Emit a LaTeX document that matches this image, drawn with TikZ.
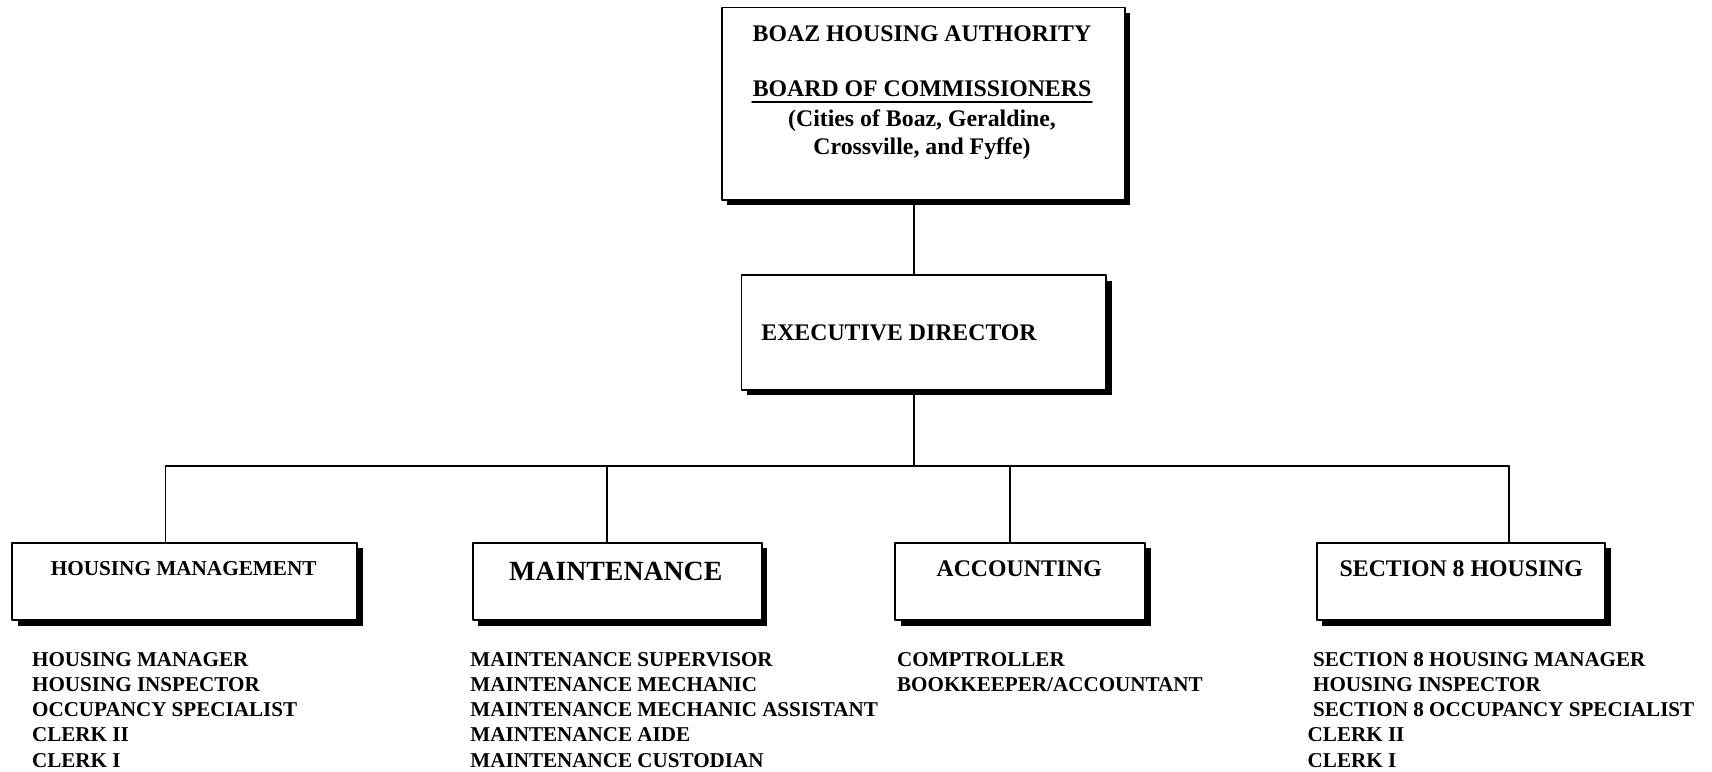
\documentclass[tikz,border=0pt]{standalone}
\usepackage{fontspec}
\setmainfont{Liberation Serif}
\usetikzlibrary{shadows}

\begin{document}
\begin{tikzpicture}[x=0.5pt,y=-0.5pt,line cap=round,line join=round,
  unitbox/.style={draw,line width=0.8pt,fill=white,inner sep=0pt,
    drop shadow={shadow xshift=2.8pt,shadow yshift=-2.8pt,fill=black,opacity=1}},
  title/.style={inner sep=0pt,anchor=base,font=\fontsize{11.9}{14}\selectfont\bfseries},
  item/.style={inner sep=0pt,anchor=base west,font=\fontsize{10.55}{12.6}\selectfont\bfseries},
  link/.style={line width=0.8pt}]
  \useasboundingbox (0,0) rectangle (1712,771);
  % boxes
  \node[unitbox,minimum width=201.5pt,minimum height=96.1pt] (board) at (923.2,103.7) {};
  \node[unitbox,minimum width=182.3pt,minimum height=57.3pt] (exec) at (923.7,332.5) {};
  \node[unitbox,minimum width=172.5pt,minimum height=38.7pt] (hm) at (184.5,581.5) {};
  \node[unitbox,minimum width=144.5pt,minimum height=38.7pt] (maint) at (617.2,581.5) {};
  \node[unitbox,minimum width=125pt,minimum height=38.7pt] (acct) at (1020,581.5) {};
  \node[unitbox,minimum width=144.2pt,minimum height=38.7pt] (sect) at (1460.9,581.5) {};
  % box texts
  \node[title] (boaz) at (922,41.7) {BOAZ HOUSING AUTHORITY};
  \node[title] (boc) at (922,96.7) {BOARD OF COMMISSIONERS};
  \draw[line width=1.3pt] ([yshift=-2.65pt]boc.base west) -- ([yshift=-2.65pt]boc.base east);
  \node[title] (cities) at (922,126.7) {(Cities of Boaz, Geraldine,};
  \node[title] (towns) at (922,154) {Crossville, and Fyffe)};
  \node[title,anchor=base west] (execlabel) at (761,340.5) {EXECUTIVE DIRECTOR};
  \node[title,font=\fontsize{10.6}{12.6}\selectfont\bfseries] (hmlabel) at (183.7,575) {HOUSING MANAGEMENT};
  \node[title,font=\fontsize{13.9}{16}\selectfont\bfseries] (maintlabel) at (615.8,580.7) {MAINTENANCE};
  \node[title] (acctlabel) at (1019.2,576.7) {ACCOUNTING};
  \node[title] (sectlabel) at (1461.3,576.7) {SECTION 8 HOUSING};
  % connectors
  \coordinate (hub) at (914,466);
  \coordinate (b1) at (165.5,466);
  \coordinate (b2) at (607,466);
  \coordinate (b3) at (1010,466);
  \coordinate (b4) at (1509,466);
  \draw[link] (board.south -| hub) -- (exec.north -| hub);
  \draw[link] (exec.south -| hub) -- (hub);
  \draw[link] (b1) -- (b4);
  \draw[link] (b1) -- (b1 |- hm.north);
  \draw[link] (b2) -- (b2 |- maint.north);
  \draw[link] (b3) -- (b3 |- acct.north);
  \draw[link] (b4) -- (b4 |- sect.north);
  % staff lists
  \node[item] (hm1) at (31.7,666) {HOUSING MANAGER};
  \node[item] (hm2) at (31.7,691.3) {HOUSING INSPECTOR};
  \node[item] (hm3) at (31.7,716.6) {OCCUPANCY SPECIALIST};
  \node[item] (hm4) at (31.7,741.9) {CLERK II};
  \node[item] (hm5) at (31.7,767.2) {CLERK I};
  \node[item] (mt1) at (470,666) {MAINTENANCE SUPERVISOR};
  \node[item] (mt2) at (470,691.3) {MAINTENANCE MECHANIC};
  \node[item] (mt3) at (470,716.6) {MAINTENANCE MECHANIC ASSISTANT};
  \node[item] (mt4) at (470,741.9) {MAINTENANCE AIDE};
  \node[item] (mt5) at (470,767.2) {MAINTENANCE CUSTODIAN};
  \node[item] (ac1) at (896.7,666) {COMPTROLLER};
  \node[item] (ac2) at (896.7,691.3) {BOOKKEEPER/ACCOUNTANT};
  \node[item] (s81) at (1312.7,666) {SECTION 8 HOUSING MANAGER};
  \node[item] (s82) at (1312.7,691.3) {HOUSING INSPECTOR};
  \node[item] (s83) at (1312.7,716.6) {SECTION 8 OCCUPANCY SPECIALIST};
  \node[item] (s84) at (1307.3,741.9) {CLERK II};
  \node[item] (s85) at (1307.3,767.2) {CLERK I};
\end{tikzpicture}
\end{document}
